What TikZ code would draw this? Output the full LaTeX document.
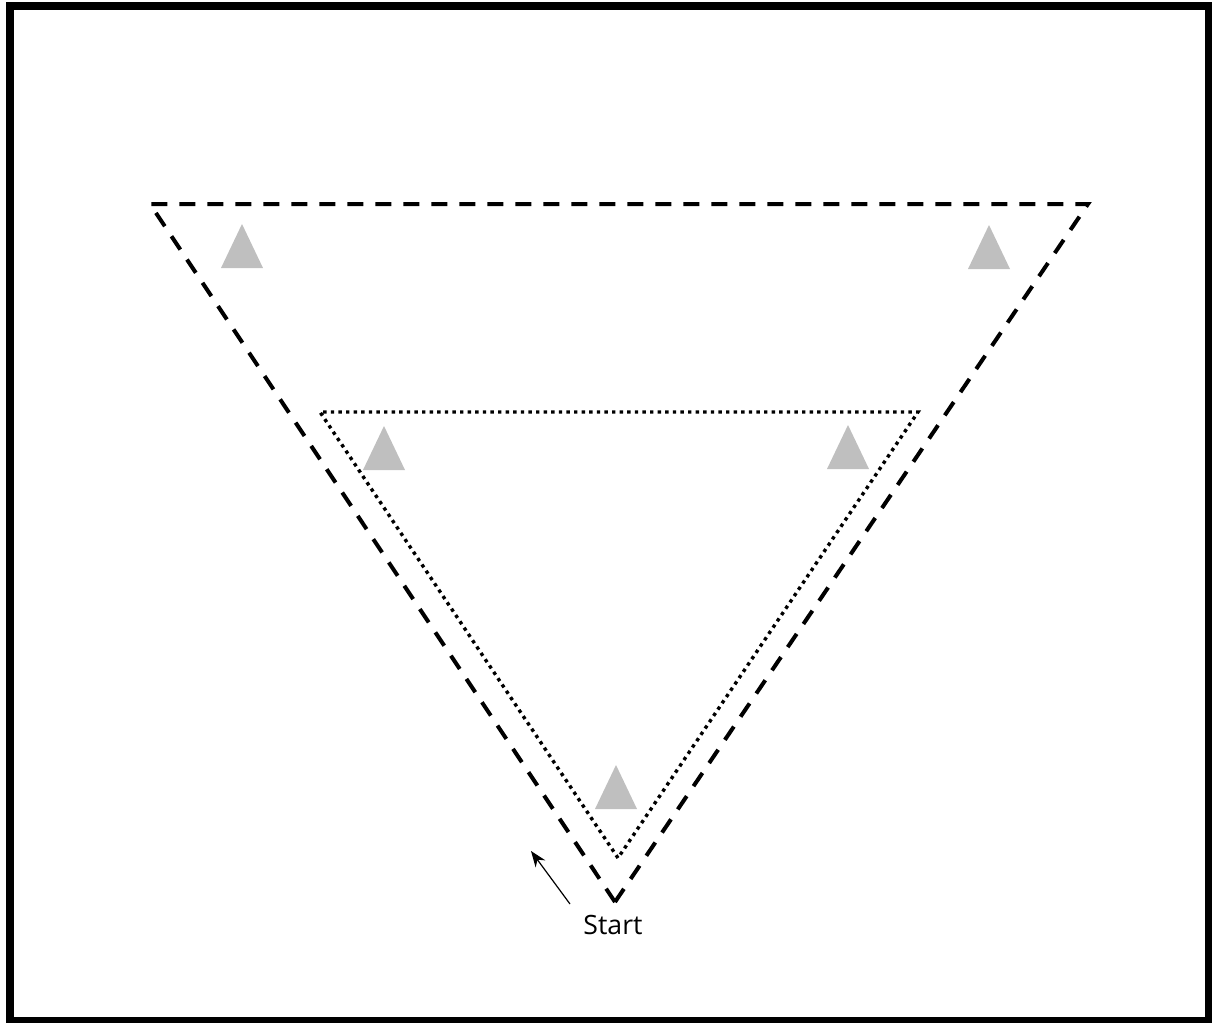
\documentclass[tikz,border=0pt]{standalone}
\usepackage{fontspec}
\setmainfont{Open Sans}
\usepackage{xcolor}
\usetikzlibrary{arrows.meta}
\definecolor{conegray}{RGB}{191,191,191}
\tikzset{
outerpath/.style={line width=2pt,dash pattern=on 8pt off 6pt},
innerpath/.style={line width=1.7pt,dash pattern=on 1.7pt off 2.1pt},
cone/.style={fill=conegray},
}
\begin{document}
\begin{tikzpicture}[x=0.5pt,y=-0.5pt,>=Stealth]
\useasboundingbox (0,0) rectangle (1212,1023);
\draw[line width=4pt](10,5.5) rectangle (1209,1021);
% outer and inner course
\draw[outerpath](615,902)--(150,204)--(1088,204)--cycle;
\draw[innerpath](618,858)--(320,412)--(918,412)--cycle;
% cones
\foreach \x/\y in {242/246,989/247,384/448,848/447,616/787}
\fill[cone](\x-21,\y+22)--(\x,\y-22)--(\x+21,\y+22)--cycle;
% start
\node[font=\fontsize{13.3}{16}\selectfont](start) at (613,925){Start};
\coordinate (tail) at (570,904);
\coordinate (tip) at (531,851);
\draw[-{Stealth[length=8pt,width=6pt]},line width=0.6pt](tail)--(tip);
\end{tikzpicture}
\end{document}
